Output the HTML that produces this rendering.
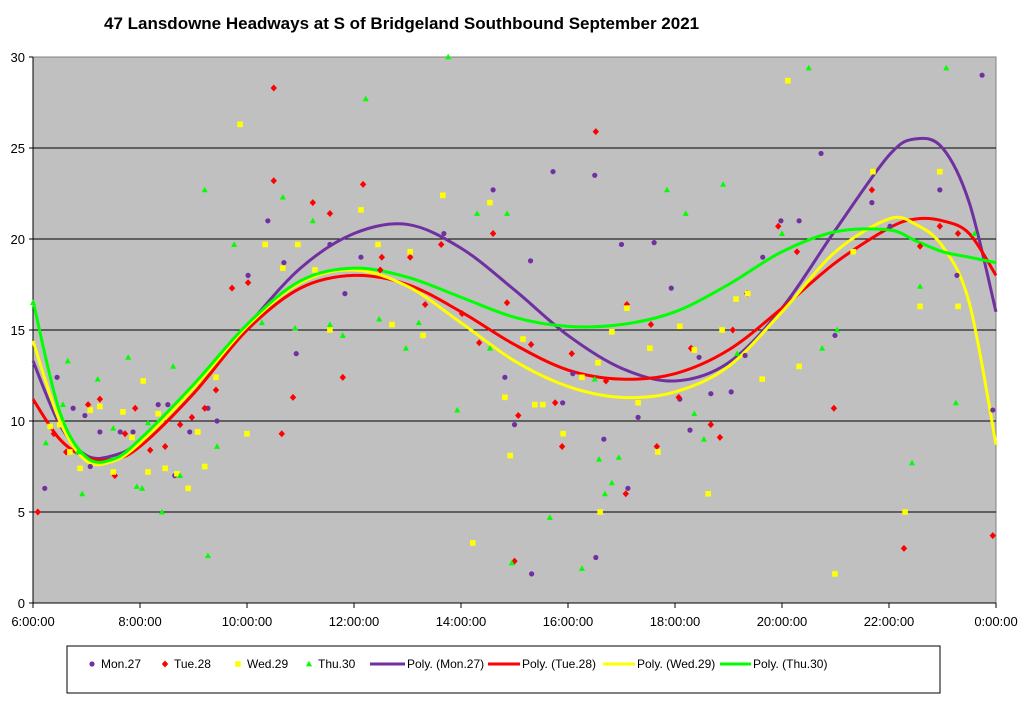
<!DOCTYPE html>
<html><head><meta charset="utf-8"><style>
body{margin:0;background:#fff;width:1024px;height:699px;overflow:hidden;font-family:"Liberation Sans",Arial,sans-serif}
</style></head><body>
<svg id="chart" width="1024" height="699" xmlns="http://www.w3.org/2000/svg" font-family="Liberation Sans, Arial, sans-serif">
<text x="104" y="29" font-size="17" font-weight="bold">47 Lansdowne Headways at S of Bridgeland Southbound September 2021</text>
<rect x="33" y="57" width="963" height="546" fill="#c0c0c0" stroke="#808080"/>
<g id="grid"></g><g id="axes"></g><g id="curves"></g><g id="points"></g>
<g id="legend">
<rect x="67" y="646" width="873" height="47" fill="#fff" stroke="#000"/>
</g>
</svg>
<script>
const yTicks=[0,5,10,15,20,25,30];
const xTickHours=[6,8,10,12,14,16,18,20,22,24];
const xTickLabels=["6:00:00","8:00:00","10:00:00","12:00:00","14:00:00","16:00:00","18:00:00","20:00:00","22:00:00","0:00:00"];
const seriesNames=["Mon.27","Tue.28","Wed.29","Thu.30"];
const seriesColors=["#7030a0","#ff0000","#ffff00","#00ff00"];
const monPts=[[6.22,6.3],[6.45,12.4],[6.75,10.7],[6.97,10.3],[7.07,7.5],[7.25,9.4],[7.63,9.4],[7.87,9.4],[8.34,10.9],[8.52,10.9],[8.65,7.0],[8.93,9.4],[9.27,10.7],[9.44,10.0],[10.02,18.0],[10.39,21.0],[10.69,18.7],[10.92,13.7],[11.55,19.7],[11.83,17.0],[12.13,19.0],[13.68,20.3],[14.6,22.7],[14.82,12.4],[15.0,9.8],[15.3,18.8],[15.32,1.6],[15.72,23.7],[15.9,11.0],[16.09,12.6],[16.5,23.5],[16.52,2.5],[16.67,9.0],[17.0,19.7],[17.12,6.3],[17.31,10.2],[17.61,19.8],[17.93,17.3],[18.09,11.2],[18.28,9.5],[18.45,13.5],[18.67,11.5],[19.05,11.6],[19.31,13.6],[19.64,19.0],[19.98,21.0],[20.32,21.0],[20.73,24.7],[20.99,14.7],[21.68,22.0],[22.02,20.7],[22.95,22.7],[23.27,18.0],[23.74,29.0],[23.94,10.6]];
const tuePts=[[6.09,5.0],[6.39,9.3],[6.62,8.3],[7.03,10.9],[7.25,11.2],[7.53,7.0],[7.72,9.3],[7.91,10.7],[8.19,8.4],[8.47,8.6],[8.75,9.8],[8.97,10.2],[9.21,10.7],[9.42,11.7],[9.72,17.3],[10.02,17.6],[10.5,23.2],[10.5,28.3],[10.65,9.3],[10.86,11.3],[11.23,22.0],[11.55,21.4],[11.79,12.4],[12.17,23.0],[12.49,18.3],[12.52,19.0],[13.05,19.0],[13.33,16.4],[13.63,19.7],[14.02,15.9],[14.34,14.3],[14.6,20.3],[14.86,16.5],[15.0,2.3],[15.07,10.3],[15.31,14.2],[15.76,11.0],[15.89,8.6],[16.07,13.7],[16.52,25.9],[16.71,12.2],[17.08,6.0],[17.1,16.4],[17.55,15.3],[17.66,8.6],[18.07,11.3],[18.3,14.0],[18.67,9.8],[18.84,9.1],[19.08,15.0],[19.35,17.0],[19.93,20.7],[20.28,19.3],[20.97,10.7],[21.68,22.7],[22.28,3.0],[22.58,19.6],[22.95,20.7],[23.29,20.3],[23.94,3.7]];
const wedPts=[[6.32,9.7],[6.5,9.8],[6.69,8.3],[6.88,7.4],[7.07,10.6],[7.25,10.8],[7.5,7.2],[7.68,10.5],[7.85,9.1],[8.06,12.2],[8.15,7.2],[8.34,10.4],[8.47,7.4],[8.69,7.1],[8.9,6.3],[9.08,9.4],[9.21,7.5],[9.42,12.4],[9.87,26.3],[10.0,9.3],[10.34,19.7],[10.67,18.4],[10.95,19.7],[11.27,18.3],[11.55,15.0],[12.13,21.6],[12.45,19.7],[12.71,15.3],[13.05,19.3],[13.29,14.7],[13.66,22.4],[14.22,3.3],[14.54,22.0],[14.82,11.3],[14.92,8.1],[15.16,14.5],[15.38,10.9],[15.53,10.9],[15.91,9.3],[16.26,12.4],[16.56,13.2],[16.6,5.0],[16.82,14.9],[17.1,16.2],[17.31,11.0],[17.53,14.0],[17.68,8.3],[18.09,15.2],[18.36,13.9],[18.62,6.0],[18.88,15.0],[19.14,16.7],[19.36,17.0],[19.63,12.3],[20.11,28.7],[20.32,13.0],[20.99,1.6],[21.33,19.3],[21.7,23.7],[22.3,5.0],[22.58,16.3],[22.95,23.7],[23.29,16.3]];
const thuPts=[[6.0,16.5],[6.24,8.8],[6.56,10.9],[6.65,13.3],[6.84,8.3],[6.92,6.0],[7.21,12.3],[7.5,9.6],[7.78,13.5],[7.94,6.4],[8.04,6.3],[8.15,9.9],[8.41,5.0],[8.62,13.0],[8.75,7.0],[9.21,22.7],[9.27,2.6],[9.44,8.6],[9.76,19.7],[10.28,15.4],[10.67,22.3],[10.9,15.1],[11.23,21.0],[11.55,15.3],[11.79,14.7],[12.22,27.7],[12.47,15.6],[12.97,14.0],[13.21,15.4],[13.76,30.0],[13.93,10.6],[14.3,21.4],[14.54,14.0],[14.86,21.4],[14.95,2.2],[15.66,4.7],[16.26,1.9],[16.5,12.3],[16.58,7.9],[16.69,6.0],[16.82,6.6],[16.95,8.0],[17.85,22.7],[18.2,21.4],[18.36,10.4],[18.54,9.0],[18.9,23.0],[19.16,13.7],[20.0,20.3],[20.5,29.4],[20.75,14.0],[21.03,15.0],[22.43,7.7],[22.58,17.4],[23.07,29.4],[23.25,11.0],[23.6,20.3]];
const curveHours=[6,6.5,7,7.5,8,9,10,11,12,13,14,15,16,17,18,19,20,21,22,22.5,23,23.5,24];
const monFit=[13.3,9.8,8.1,8.1,8.9,11.8,15.2,18.4,20.3,20.8,19.5,17.2,14.7,12.9,12.2,13.2,16.2,20.5,24.6,25.5,25.0,22.0,16.0];
const tueFit=[11.2,9.0,8.0,7.9,8.6,11.5,15.0,17.3,18.0,17.5,16.0,14.2,12.8,12.3,12.6,13.9,16.2,18.7,20.6,21.1,21.0,20.3,18.0];
const wedFit=[14.4,10.0,7.8,7.8,8.8,11.8,15.2,17.6,18.3,17.4,15.4,13.3,11.9,11.3,11.6,13.0,16.0,19.3,21.1,20.8,19.6,16.5,8.7];
const thuFit=[16.6,10.5,8.0,7.9,9.0,12.0,15.3,17.7,18.4,17.9,16.8,15.7,15.2,15.3,16.0,17.5,19.3,20.4,20.5,19.9,19.3,19.0,18.7];

const NS="http://www.w3.org/2000/svg";
const X0=33,X1=996,Y0=603,Y1=57;
const xs=h=>X0+(h-6)/18*(X1-X0);
const ys=v=>Y0-v/30*(Y0-Y1);
function mk(tag,attrs,parent){const e=document.createElementNS(NS,tag);for(const k in attrs)e.setAttribute(k,attrs[k]);parent.appendChild(e);return e;}
const grid=document.getElementById('grid'),axes=document.getElementById('axes');
yTicks.forEach(v=>{
  if(v>0&&v<30){const l=mk('line',{x1:X0,x2:X1,y1:ys(v),y2:ys(v),stroke:'#000','stroke-width':1},grid);
  
  }
  const t=mk('text',{x:X0-8,y:ys(v)+5,'text-anchor':'end','font-size':13},axes);
  t.textContent=v;
  
  
  mk('line',{x1:X0-4,x2:X0,y1:ys(v),y2:ys(v),stroke:'#000'},axes);
});
mk('line',{x1:X0,x2:X1,y1:Y0,y2:Y0,stroke:'#000'},axes);
mk('line',{x1:X0,x2:X0,y1:Y1,y2:Y0,stroke:'#000'},axes);
xTickHours.forEach((h,i)=>{
  mk('line',{x1:xs(h),x2:xs(h),y1:Y0,y2:Y0+5,stroke:'#000'},axes);
  const t=mk('text',{x:xs(h),y:Y0+23,'text-anchor':'middle','font-size':13},axes);
  t.textContent=xTickLabels[i];
  
  
});
function marker(kind,cx,cy,color,parent){
  let e;
  if(kind===0)e=mk('circle',{cx:cx,cy:cy,r:2.6,fill:color},parent);
  else if(kind===1)e=mk('polygon',{points:`${cx},${cy-3.5} ${cx+3.2},${cy} ${cx},${cy+3.5} ${cx-3.2},${cy}`,fill:color},parent);
  else if(kind===2)e=mk('rect',{x:cx-2.8,y:cy-2.8,width:5.6,height:5.6,fill:color},parent);
  else e=mk('polygon',{points:`${cx},${cy-3.2} ${cx+3},${cy+2.4} ${cx-3},${cy+2.4}`,fill:color},parent);
  return e;
}
const ptsAll=[monPts,tuePts,wedPts,thuPts];
const pg=document.getElementById('points');
ptsAll.forEach((arr,k)=>arr.forEach(p=>{
  const e=marker(k,xs(p[0]),ys(p[1]),seriesColors[k],pg);
  
  
}));
function smooth(vals){
  const P=curveHours.map((h,i)=>[xs(h),ys(vals[i])]);
  let d=`M${P[0][0]},${P[0][1]}`;
  for(let i=0;i<P.length-1;i++){
    const p0=P[Math.max(0,i-1)],p1=P[i],p2=P[i+1],p3=P[Math.min(P.length-1,i+2)];
    const c1=[p1[0]+(p2[0]-p0[0])/6,p1[1]+(p2[1]-p0[1])/6];
    const c2=[p2[0]-(p3[0]-p1[0])/6,p2[1]-(p3[1]-p1[1])/6];
    d+=` C${c1[0]},${c1[1]} ${c2[0]},${c2[1]} ${p2[0]},${p2[1]}`;
  }
  return d;
}
const cg=document.getElementById('curves');
[monFit,tueFit,wedFit,thuFit].forEach((f,k)=>{
  const e=mk('path',{d:smooth(f),fill:'none',stroke:seriesColors[k],'stroke-width':3},cg);
  
  
});
const lg=document.getElementById('legend');
const mX=[92,165,238,309],lX=[[370,405],[488,520],[603,635],[720,751]];
seriesNames.forEach((n,k)=>{
  const m=marker(k,mX[k],664,seriesColors[k],lg);
  
  
  const t=mk('text',{x:mX[k]+9,y:668,'font-size':12},lg);
  t.textContent=n;
  
  
  const l=mk('line',{x1:lX[k][0],x2:lX[k][1],y1:664,y2:664,stroke:seriesColors[k],'stroke-width':3},lg);
  
  
  const t2=mk('text',{x:lX[k][1]+2,y:668,'font-size':12},lg);
  t2.textContent='Poly. ('+n+')';
  
  
});
</script>
</body></html>
